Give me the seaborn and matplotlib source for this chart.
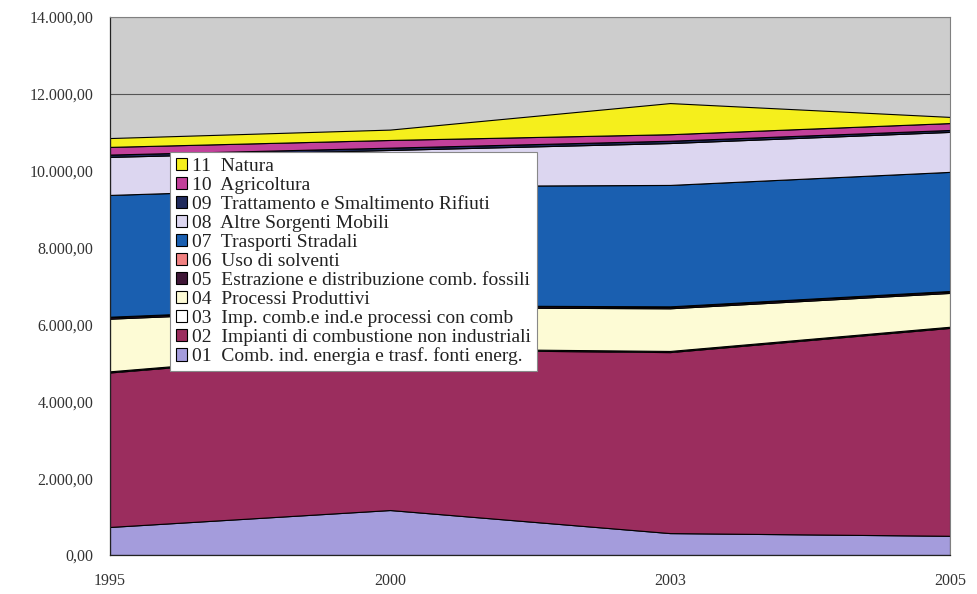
import numpy as np
import matplotlib
matplotlib.use("Agg")
import matplotlib.pyplot as plt
import matplotlib.ticker as mticker
import seaborn as sns

# Emissions by macro-sector (stacked), one value per year
years = ["1995", "2000", "2003", "2005"]

s01 = [730, 1170, 570, 500]      # Comb. ind. energia e trasf. fonti energ.
s02 = [4020, 4180, 4710, 5410]   # Impianti di combustione non industriali
s03 = [30, 30, 30, 30]           # Imp. comb.e ind.e processi con comb
s04 = [1370, 1070, 1110, 880]    # Processi Produttivi
s05 = [40, 40, 40, 40]           # Estrazione e distribuzione comb. fossili
s06 = [10, 10, 10, 10]           # Uso di solventi
s07 = [3170, 3100, 3160, 3100]   # Trasporti Stradali
s08 = [990, 940, 1090, 1040]     # Altre Sorgenti Mobili
s09 = [60, 60, 60, 50]           # Trattamento e Smaltimento Rifiuti
s10 = [200, 200, 170, 180]       # Agricoltura
s11 = [230, 270, 810, 160]       # Natura

labels = [
    "01  Comb. ind. energia e trasf. fonti energ.",
    "02  Impianti di combustione non industriali",
    "03  Imp. comb.e ind.e processi con comb",
    "04  Processi Produttivi",
    "05  Estrazione e distribuzione comb. fossili",
    "06  Uso di solventi",
    "07  Trasporti Stradali",
    "08  Altre Sorgenti Mobili",
    "09  Trattamento e Smaltimento Rifiuti",
    "10  Agricoltura",
    "11  Natura",
]
series = [s01, s02, s03, s04, s05, s06, s07, s08, s09, s10, s11]

colors = [
    "#a49cdc", "#9b2d5e", "#ffffff", "#fdfbd5", "#3f1636", "#f08080",
    "#1a5fb0", "#dcd6f0", "#1f2a5c", "#c2409a", "#f5ef1c",
]

sns.set_style("white")
plt.rcParams["font.family"] = ["Liberation Serif", "DejaVu Serif"]

fig = plt.figure(figsize=(9.78, 5.94), dpi=100)
ax = fig.add_axes([110 / 978, 39 / 594, 840 / 978, 538 / 594])
ax.set_facecolor("#cdcdcd")

x = np.arange(len(years))
polys = ax.stackplot(x, *series, colors=colors, edgecolor="black",
                     linewidth=0.8, zorder=2)

ax.set_xlim(0, len(years) - 1)
ax.set_ylim(0, 14000)
ax.set_xticks(x)
ax.set_xticklabels(years)
ax.yaxis.set_major_locator(mticker.MultipleLocator(2000))


def it_fmt(v, pos):
    s = f"{v:,.2f}"
    return s.replace(",", "X").replace(".", ",").replace("X", ".")


ax.yaxis.set_major_formatter(mticker.FuncFormatter(it_fmt))
ax.grid(axis="y", color="#555555", linewidth=0.8, zorder=0)
ax.set_axisbelow(True)

ax.tick_params(axis="both", labelsize=11.5, colors="#333333", length=4,
               width=0.8, direction="out")
ax.tick_params(axis="x", pad=9)
ax.tick_params(axis="y", pad=8)
for side in ["top", "right"]:
    ax.spines[side].set_color("#808080")
    ax.spines[side].set_linewidth(0.8)
for side in ["left", "bottom"]:
    ax.spines[side].set_color("#222222")
    ax.spines[side].set_linewidth(0.9)
ax.spines["bottom"].set_zorder(5)

handles = polys[::-1]
leg = fig.legend(handles, labels[::-1], loc="upper left",
                 bbox_to_anchor=(170 / 978, 1 - 152 / 594),
                 bbox_transform=fig.transFigure, borderaxespad=0,
                 fontsize=14, frameon=True, fancybox=False,
                 handlelength=0.6, handleheight=0.6, handletextpad=0.25,
                 labelspacing=0.1, borderpad=0.3)
leg.get_frame().set_edgecolor("#888888")
leg.get_frame().set_linewidth(0.8)
leg.get_frame().set_facecolor("white")
leg.get_frame().set_alpha(1)
for t in leg.get_texts():
    t.set_color("#222222")

fig.savefig("out.png", dpi=100, facecolor="white")
